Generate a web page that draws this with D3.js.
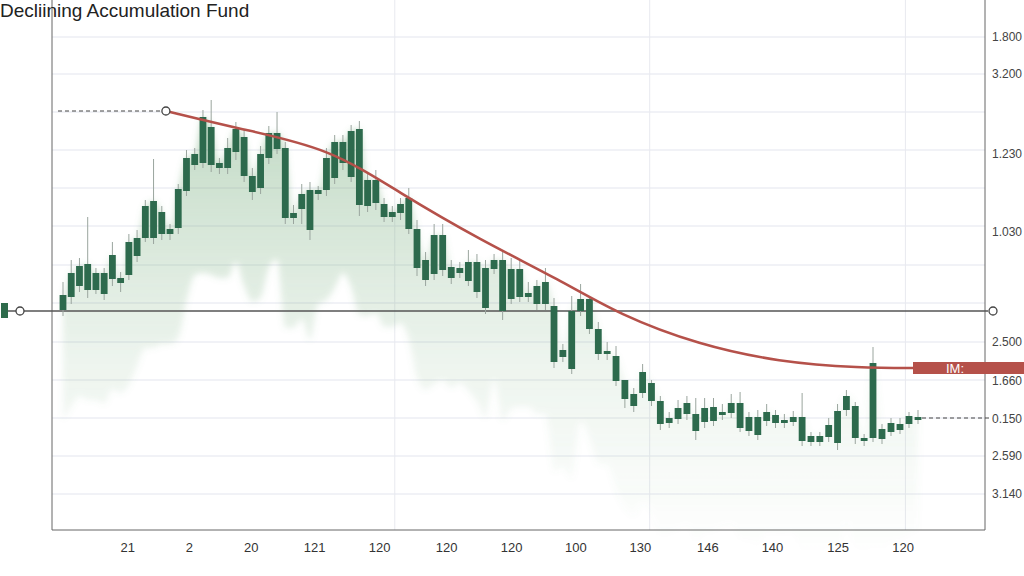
<!DOCTYPE html>
<html><head><meta charset="utf-8">
<script src="https://cdn.jsdelivr.net/npm/d3@7"></script>
<style>body{margin:0;background:#fff}text{font-family:"Liberation Sans",Arial,sans-serif}</style>
</head><body><svg id="chart" width="1024" height="576"></svg>
<script>
// candle bodies (all rising)
const bodyTop = [235,257,264,266,257,257,275,252,288,292,324,329,318,301,341,372,376,413,403,367,382,401,393,354,376,397,397,382,317,336,340,340,372,388,388,399,401,350,350,326,318,326,332,301,270,295,295,263,262,268,268,262,270,270,261,261,237,244,248,224,180,219,231,231,201,179,174,150,136,158,147,129,112,122,127,116,122,123,118,127,127,113,113,118,115,110,113,113,94,94,105,119,134,124,92,167,101,107,106,114,113]
const bodyBottom = [220,233,244,240,240,236,251,247,255,274,292,292,296,296,302,339,365,367,365,362,362,378,354,338,342,372,381,312,312,321,300,336,340,352,367,353,325,324,327,313,313,317,301,262,250,256,260,252,257,249,238,222,261,219,231,233,233,226,226,168,173,161,219,201,176,176,149,131,124,137,129,106,107,111,116,99,108,109,115,117,102,99,95,109,107,107,108,89,88,88,93,87,120,92,89,92,91,98,100,106,110]
const highs = [248,270,272,313,262,262,288,258,296,300,330,371,324,306,346,380,382,420,430,372,392,408,400,362,384,404,418,388,325,346,348,344,382,395,395,405,409,356,360,332,324,332,342,310,278,306,306,270,268,280,276,270,276,280,272,270,248,250,262,232,186,234,246,232,208,188,184,150,142,166,150,134,118,130,134,132,132,132,126,136,138,118,120,126,120,116,119,137,98,98,112,126,140,128,96,183,106,112,112,118,120]
const lows = [214,226,238,232,236,230,244,238,250,268,288,286,290,290,296,334,360,362,358,356,356,370,348,330,336,366,376,306,306,306,290,330,334,346,360,348,314,318,320,308,308,310,296,254,244,250,254,246,252,244,232,216,256,210,226,228,228,220,220,162,168,156,214,196,170,170,144,122,118,132,124,100,102,106,110,90,102,104,110,112,98,94,90,104,102,102,104,84,84,84,88,80,114,86,84,88,86,94,96,102,106]

const curveIdx = [12.5,21.5,32.4,40.9,50.4,59.7,66.4,75.4,84.4,93.5,100]
const curveVal = [419,401,382,337,290,250,215,185,168,162,162]

const rightTickVals = [493,456,376,298,188,149,111,74,36]
const rightTickLabels = ['1.800','3.200','1.230','1.030','2.500','1.660','0.150','2.590','3.140']
const gridVals = [493,456,418,380,342,304,265,227,188,150,112,74,36]
const vGridIdx = [40.3,69.8,98.6]
const bottomIdx = [7.8,15.3,22.8,30.5,38.4,46.4,54.0,61.4,68.7,76.3,83.6,91.0,98.3]
const bottomLabels = ['21','2','20','121','120','120','120','100','130','146','140','125','120']
const baseLevel = 219, peakLevel = 419, lastLevel = 112, tagLevel = 162

const svg = d3.select('#chart')
// candle spacing is not quite even in the picture, so the index scale is piecewise
const x = d3.scaleLinear().domain([0,43,59,95,100]).range([63,417,554,873,918])
const y = d3.scaleLinear().domain([0,530]).range([530,0])
const data = bodyTop.map((t,i)=>({i, top:t, bot:bodyBottom[i], hi:highs[i], lo:lows[i]}))

const defs = svg.append('defs')
const g = defs.append('linearGradient').attr('id','fade').attr('x1',0).attr('x2',0).attr('y1',0).attr('y2',1)
g.append('stop').attr('offset','0%').attr('stop-color','#6aa571').attr('stop-opacity',0.4)
g.append('stop').attr('offset','55%').attr('stop-color','#6aa571').attr('stop-opacity',0.12)
g.append('stop').attr('offset','100%').attr('stop-color','#6aa571').attr('stop-opacity',0)
defs.append('filter').attr('id','blur').attr('x','-5%').attr('y','-5%').attr('width','110%').attr('height','110%')
  .append('feGaussianBlur').attr('stdDeviation',3)

// grid
svg.append('g').selectAll('line').data(gridVals).join('line')
  .attr('x1',52).attr('x2',985).attr('y1',d=>y(d)).attr('y2',d=>y(d))
  .attr('stroke','#e3e5ee').attr('stroke-width',1)
svg.append('g').selectAll('line').data(vGridIdx).join('line')
  .attr('x1',d=>x(d)).attr('x2',d=>x(d)).attr('y1',0).attr('y2',530)
  .attr('stroke','#e8e9ef')

// soft area beneath candles
svg.append('path').datum(data)
  .attr('d', d3.area().x(d=>x(d.i)).y1(d=>y(d.top)).y0(d=>y(d.bot-110)).curve(d3.curveMonotoneX))
  .attr('fill','url(#fade)').attr('filter','url(#blur)')

// axes frame
svg.append('line').attr('x1',52).attr('x2',52).attr('y1',0).attr('y2',530).attr('stroke','#666')
svg.append('line').attr('x1',985).attr('x2',985).attr('y1',0).attr('y2',530).attr('stroke','#666')
svg.append('line').attr('x1',52).attr('x2',985).attr('y1',530).attr('y2',530).attr('stroke','#666')

// base line with markers
svg.append('line').attr('x1',8).attr('x2',988).attr('y1',y(baseLevel)).attr('y2',y(baseLevel)).attr('stroke','#555').attr('stroke-width',1.3)
svg.append('rect').attr('x',1).attr('y',y(baseLevel)-8).attr('width',7).attr('height',15).attr('fill','#2e6b4c')
svg.append('circle').attr('cx',20).attr('cy',y(baseLevel)).attr('r',4).attr('fill','#fff').attr('stroke','#444').attr('stroke-width',1.3)
svg.append('circle').attr('cx',993).attr('cy',y(baseLevel)).attr('r',4).attr('fill','#fff').attr('stroke','#444').attr('stroke-width',1.3)

// candles
const c = svg.append('g')
c.selectAll('line').data(data).join('line')
  .attr('x1',d=>x(d.i)).attr('x2',d=>x(d.i)).attr('y1',d=>y(d.hi)).attr('y2',d=>y(d.lo))
  .attr('stroke','#9aa59e').attr('stroke-width',1)
c.selectAll('rect').data(data).join('rect')
  .attr('x',d=>x(d.i)-3.4).attr('width',6.8)
  .attr('y',d=>y(d.top)).attr('height',d=>Math.max(2,y(d.bot)-y(d.top)))
  .attr('fill','#2d6a4d')

// declining curve
const cp = curveIdx.map((v,i)=>[v,curveVal[i]])
svg.append('path').datum(cp).attr('d', d3.line().x(d=>x(d[0])).y(d=>y(d[1])).curve(d3.curveBasis))
  .attr('fill','none').attr('stroke','#b5514a').attr('stroke-width',2.6)
svg.append('line').attr('x1',58).attr('x2',x(curveIdx[0])).attr('y1',y(peakLevel)).attr('y2',y(peakLevel))
  .attr('stroke','#444').attr('stroke-dasharray','4,3')
svg.append('circle').attr('cx',x(curveIdx[0])).attr('cy',y(peakLevel)).attr('r',4).attr('fill','#fff').attr('stroke','#444').attr('stroke-width',1.3)
svg.append('rect').attr('x',913).attr('y',y(tagLevel)-6).attr('width',111).attr('height',12).attr('fill','#b5514a')
svg.append('text').attr('x',946).attr('y',y(tagLevel)+5).attr('fill','#fff').attr('font-size',13).text('IM:')

// last value dashed line
svg.append('line').attr('x1',x(100)+4).attr('x2',990).attr('y1',y(lastLevel)).attr('y2',y(lastLevel))
  .attr('stroke','#444').attr('stroke-dasharray','4,3')

// right axis
const ra = svg.append('g').attr('transform','translate(992,0)')
  .call(d3.axisRight(y).tickValues(rightTickVals).tickFormat((d,i)=>rightTickLabels[i]).tickSize(0))
ra.select('.domain').remove()
ra.selectAll('text').attr('font-size',12).attr('fill','#444').attr('dx',-3)

// bottom labels
const ba = svg.append('g').attr('transform','translate(0,540)')
  .call(d3.axisBottom(x).tickValues(bottomIdx).tickFormat((d,i)=>bottomLabels[i]).tickSize(0))
ba.select('.domain').remove()
ba.selectAll('text').attr('font-size',13).attr('fill','#333')

svg.append('text').attr('x',0).attr('y',17).attr('font-size',19).attr('fill','#222').text('Decliining Accumulation Fund')
</script></body></html>
